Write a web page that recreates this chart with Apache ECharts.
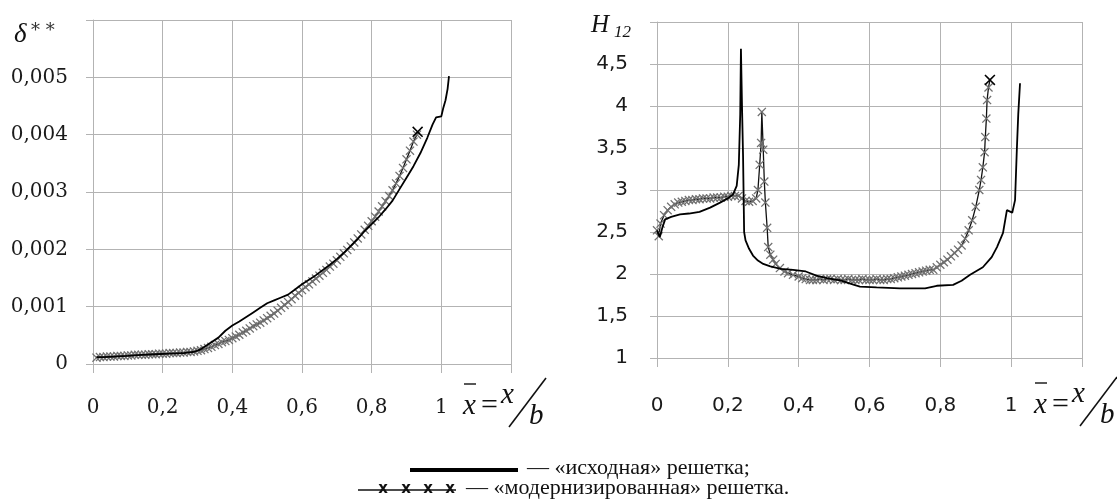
<!DOCTYPE html>
<html>
<head>
<meta charset="utf-8">
<script src="https://cdn.jsdelivr.net/npm/echarts@6/dist/echarts.min.js"></script>
<style>
  html, body { margin: 0; padding: 0; background: #fff; }
  #chart { width: 1117px; height: 500px; }
</style>
</head>
<body>
<div id="chart"></div>
<script>
// Relative coordinate x/b along the chord
const xTicks = [0, 0.2, 0.4, 0.6, 0.8, 1, 1.2];
const deltaTicks = [0, 0.001, 0.002, 0.003, 0.004, 0.005, 0.006];
const h12Ticks = [1, 1.5, 2, 2.5, 3, 3.5, 4, 4.5, 5];

// Momentum thickness δ** — original cascade
const deltaBaseX = [0.01, 0.03, 0.06, 0.10, 0.14, 0.18, 0.22, 0.26, 0.29, 0.31, 0.33, 0.36, 0.38, 0.40, 0.42, 0.44, 0.46, 0.48, 0.50, 0.52, 0.54, 0.56, 0.58, 0.60, 0.62, 0.64, 0.66, 0.68, 0.70, 0.72, 0.74, 0.76, 0.78, 0.80, 0.82, 0.84, 0.86, 0.88, 0.90, 0.92, 0.94, 0.96, 0.975, 0.985, 1.00, 1.005, 1.012, 1.018, 1.022];
const deltaBaseY = [0.00012, 0.00012, 0.00013, 0.00014, 0.00016, 0.00017, 0.00018, 0.00019, 0.00021, 0.00026, 0.00034, 0.00046, 0.00058, 0.00067, 0.00074, 0.00082, 0.00090, 0.00098, 0.00106, 0.00111, 0.00116, 0.00121, 0.00130, 0.00139, 0.00147, 0.00155, 0.00164, 0.00173, 0.00183, 0.00194, 0.00206, 0.00218, 0.00232, 0.00244, 0.00256, 0.00270, 0.00285, 0.00305, 0.00325, 0.00345, 0.00368, 0.00395, 0.00418, 0.00430, 0.00432, 0.00445, 0.00460, 0.00480, 0.00502];

// Momentum thickness δ** — modernised cascade
const deltaModX = [0.01, 0.02, 0.03, 0.04, 0.05, 0.06, 0.07, 0.08, 0.09, 0.10, 0.11, 0.12, 0.13, 0.14, 0.15, 0.16, 0.17, 0.18, 0.19, 0.20, 0.21, 0.22, 0.23, 0.24, 0.25, 0.26, 0.27, 0.28, 0.29, 0.30, 0.31, 0.32, 0.33, 0.34, 0.35, 0.36, 0.37, 0.38, 0.39, 0.40, 0.41, 0.42, 0.43, 0.44, 0.45, 0.46, 0.47, 0.48, 0.49, 0.50, 0.51, 0.52, 0.53, 0.54, 0.55, 0.56, 0.57, 0.58, 0.59, 0.60, 0.61, 0.62, 0.63, 0.64, 0.65, 0.66, 0.67, 0.68, 0.69, 0.70, 0.71, 0.72, 0.73, 0.74, 0.75, 0.76, 0.77, 0.78, 0.79, 0.80, 0.81, 0.82, 0.83, 0.84, 0.85, 0.86, 0.87, 0.88, 0.89, 0.90, 0.91, 0.92, 0.93, 0.932];
const deltaModY = [0.00011, 0.00012, 0.00012, 0.00013, 0.00013, 0.00013, 0.00014, 0.00014, 0.00014, 0.00015, 0.00015, 0.00016, 0.00016, 0.00016, 0.00016, 0.00017, 0.00017, 0.00017, 0.00018, 0.00018, 0.00018, 0.00019, 0.00019, 0.00019, 0.00020, 0.00020, 0.00021, 0.00021, 0.00022, 0.00023, 0.00024, 0.00026, 0.00028, 0.00030, 0.00033, 0.00035, 0.00038, 0.00040, 0.00042, 0.00045, 0.00048, 0.00051, 0.00055, 0.00058, 0.00062, 0.00066, 0.00069, 0.00072, 0.00076, 0.00080, 0.00084, 0.00088, 0.00093, 0.00098, 0.00103, 0.00108, 0.00113, 0.00119, 0.00124, 0.00129, 0.00134, 0.00139, 0.00144, 0.00149, 0.00154, 0.00159, 0.00164, 0.00170, 0.00175, 0.00181, 0.00187, 0.00193, 0.00199, 0.00205, 0.00212, 0.00219, 0.00226, 0.00234, 0.00241, 0.00249, 0.00257, 0.00266, 0.00275, 0.00284, 0.00293, 0.00303, 0.00315, 0.00328, 0.00342, 0.00357, 0.00372, 0.00388, 0.00400, 0.00405];

// Shape factor H12 — original cascade
const hBaseX = [0.0, 0.008, 0.015, 0.023, 0.04, 0.065, 0.09, 0.12, 0.15, 0.178, 0.2, 0.215, 0.225, 0.231, 0.235, 0.237, 0.240, 0.243, 0.246, 0.25, 0.26, 0.271, 0.285, 0.30, 0.32, 0.35, 0.384, 0.42, 0.45, 0.48, 0.52, 0.55, 0.573, 0.62, 0.686, 0.757, 0.79, 0.836, 0.86, 0.884, 0.92, 0.945, 0.96, 0.977, 0.988, 1.003, 1.011, 1.016, 1.02, 1.025];
const hBaseY = [2.52, 2.44, 2.55, 2.65, 2.68, 2.71, 2.72, 2.74, 2.79, 2.85, 2.9, 2.95, 3.05, 3.3, 3.9, 4.68, 4.0, 3.4, 2.5, 2.4, 2.3, 2.22, 2.16, 2.12, 2.09, 2.06, 2.05, 2.03, 1.98, 1.95, 1.92, 1.88, 1.85, 1.84, 1.83, 1.83, 1.86, 1.87, 1.92, 1.99, 2.08, 2.2, 2.32, 2.49, 2.76, 2.73, 2.88, 3.48, 3.9, 4.27];

// Shape factor H12 — modernised cascade
const hModX = [0.0, 0.005, 0.01, 0.02, 0.03, 0.04, 0.05, 0.06, 0.07, 0.08, 0.09, 0.10, 0.11, 0.12, 0.13, 0.14, 0.15, 0.16, 0.17, 0.18, 0.19, 0.20, 0.21, 0.22, 0.23, 0.24, 0.25, 0.26, 0.27, 0.28, 0.285, 0.29, 0.294, 0.296, 0.30, 0.303, 0.306, 0.311, 0.314, 0.32, 0.328, 0.335, 0.347, 0.36, 0.37, 0.384, 0.40, 0.41, 0.42, 0.432, 0.44, 0.45, 0.46, 0.47, 0.48, 0.49, 0.50, 0.51, 0.52, 0.53, 0.54, 0.55, 0.56, 0.57, 0.58, 0.59, 0.60, 0.61, 0.62, 0.63, 0.64, 0.65, 0.66, 0.67, 0.68, 0.69, 0.70, 0.71, 0.72, 0.73, 0.74, 0.75, 0.76, 0.77, 0.78, 0.79, 0.80, 0.81, 0.82, 0.83, 0.84, 0.85, 0.86, 0.87, 0.88, 0.89, 0.90, 0.91, 0.915, 0.92, 0.925, 0.927, 0.93, 0.932, 0.936, 0.94];
const hModY = [2.52, 2.45, 2.6, 2.7, 2.76, 2.8, 2.83, 2.85, 2.86, 2.87, 2.88, 2.88, 2.89, 2.89, 2.9, 2.9, 2.9, 2.91, 2.91, 2.91, 2.92, 2.92, 2.93, 2.93, 2.93, 2.9, 2.87, 2.86, 2.87, 2.9, 3.0, 3.3, 3.56, 3.93, 3.48, 3.1, 2.85, 2.55, 2.32, 2.23, 2.17, 2.12, 2.07, 2.03, 2.01, 1.99, 1.97, 1.95, 1.94, 1.93, 1.93, 1.93, 1.94, 1.93, 1.94, 1.94, 1.93, 1.94, 1.93, 1.93, 1.94, 1.93, 1.93, 1.93, 1.94, 1.93, 1.93, 1.93, 1.94, 1.93, 1.93, 1.94, 1.94, 1.95, 1.96, 1.97, 1.98, 1.99, 2.0, 2.01, 2.02, 2.03, 2.04, 2.05, 2.05, 2.08, 2.11, 2.14, 2.17, 2.21, 2.25, 2.29, 2.34, 2.42, 2.52, 2.64, 2.8, 3.0, 3.12, 3.27, 3.45, 3.63, 3.85, 4.07, 4.22, 4.31];

const legendBase = '— «исходная» решетка;';
const legendMod = '— «модернизированная» решетка.';

const GRID = '#b3b3b3';
const CROSS = 'path://M0,1L1,0L5,4L9,0L10,1L6,5L10,9L9,10L5,6L1,10L0,9L4,5Z';

function pairs(xs, ys) { return xs.map((x, i) => [x, ys[i]]); }
function markedPairs(xs, ys) {
  const d = pairs(xs, ys);
  const last = d.length - 1;
  d[last] = { value: d[last], symbolSize: 11, itemStyle: { color: '#000' } };
  return d;
}
function comma(v) { return String(+v.toFixed(4)).replace('.', ','); }

function xAxisFor(gridIndex, font, size, margin) {
  return {
    type: 'value', gridIndex, min: xTicks[0], max: xTicks[xTicks.length - 1], interval: 0.2,
    axisLine: { show: true, onZero: false, lineStyle: { color: GRID, width: 1 } },
    axisTick: { show: true, length: 9, lineStyle: { color: GRID } },
    splitLine: { show: true, lineStyle: { color: GRID, width: 1 } },
    axisLabel: {
      margin, color: '#1a1a1a', fontFamily: font, fontSize: size,
      formatter: v => (Math.abs(v - xTicks[xTicks.length - 1]) < 1e-9 ? '' : comma(v))
    }
  };
}
function yAxisFor(gridIndex, ticks, interval, font, size, margin) {
  return {
    type: 'value', gridIndex, min: ticks[0], max: ticks[ticks.length - 1], interval,
    axisLine: { show: true, lineStyle: { color: GRID, width: 1 } },
    axisTick: { show: true, length: 7, lineStyle: { color: GRID } },
    splitLine: { show: true, lineStyle: { color: GRID, width: 1 } },
    axisLabel: {
      margin, color: '#1a1a1a', fontFamily: font, fontSize: size,
      formatter: v => (Math.abs(v - ticks[ticks.length - 1]) < 1e-9 ? '' : comma(v))
    }
  };
}

function baseSeries(xi, yi, data) {
  return {
    type: 'line', xAxisIndex: xi, yAxisIndex: yi, data, showSymbol: false, symbol: 'none',
    lineStyle: { color: '#000', width: 1.8 }, z: 3, animation: false
  };
}
function modSeries(xi, yi, data) {
  return {
    type: 'line', xAxisIndex: xi, yAxisIndex: yi, data, symbol: CROSS, symbolSize: 9,
    showAllSymbol: true,
    itemStyle: { color: '#707070' },
    lineStyle: { color: '#111', width: 1.3 }, z: 2, animation: false
  };
}

// Axis caption x̄ = x/b, placed from an origin near the last labelled tick
function formula(ox, oy) {
  const f = 'italic 29px "Liberation Serif"';
  return [
    { type: 'text', style: { text: 'x', x: ox, y: oy, font: f, fill: '#111', align: 'left', verticalAlign: 'middle' } },
    { type: 'line', shape: { x1: ox + 1, y1: oy - 22, x2: ox + 13, y2: oy - 22 }, style: { stroke: '#111', lineWidth: 1.4 } },
    { type: 'text', style: { text: '=', x: ox + 18, y: oy, font: '30px "Liberation Serif"', fill: '#111', align: 'left', verticalAlign: 'middle' } },
    { type: 'text', style: { text: 'x', x: ox + 38, y: oy - 11, font: f, fill: '#111', align: 'left', verticalAlign: 'middle' } },
    { type: 'line', shape: { x1: ox + 83, y1: oy - 28, x2: ox + 46, y2: oy + 21 }, style: { stroke: '#111', lineWidth: 1.6 } },
    { type: 'text', style: { text: 'b', x: ox + 66, y: oy + 10, font: f, fill: '#111', align: 'left', verticalAlign: 'middle' } }
  ];
}

const chart = echarts.init(document.getElementById('chart'), null, { renderer: 'canvas' });

const graphics = [].concat(
  formula(463, 406),
  formula(1034, 405),
  [
    { type: 'text', style: { text: 'δ', x: 14, y: 35, font: 'italic 27px "Liberation Serif"', fill: '#111', verticalAlign: 'middle' } },
    { type: 'text', style: { text: '* *', x: 31, y: 31, font: '18px "DejaVu Serif"', fill: '#333', verticalAlign: 'middle' } },
    { type: 'text', style: { text: 'H', x: 591, y: 25, font: 'italic 25px "Liberation Serif"', fill: '#111', verticalAlign: 'middle' } },
    { type: 'text', style: { text: '12', x: 614, y: 33, font: 'italic 17px "Liberation Serif"', fill: '#111', verticalAlign: 'middle' } },
    // legend
    { type: 'rect', shape: { x: 410, y: 468, width: 108, height: 4 }, style: { fill: '#000' } },
    { type: 'text', style: { text: legendBase, x: 527, y: 468, font: '22px "Liberation Serif"', fill: '#111', verticalAlign: 'middle' } },
    { type: 'line', shape: { x1: 358, y1: 490, x2: 456, y2: 490 }, style: { stroke: '#111', lineWidth: 1.3 } },
    { type: 'text', style: { text: 'x', x: 383, y: 489, font: 'bold 15px "DejaVu Sans"', fill: '#111', align: 'center', verticalAlign: 'middle' } },
    { type: 'text', style: { text: 'x', x: 406, y: 489, font: 'bold 15px "DejaVu Sans"', fill: '#111', align: 'center', verticalAlign: 'middle' } },
    { type: 'text', style: { text: 'x', x: 428, y: 489, font: 'bold 15px "DejaVu Sans"', fill: '#111', align: 'center', verticalAlign: 'middle' } },
    { type: 'text', style: { text: 'x', x: 450, y: 489, font: 'bold 15px "DejaVu Sans"', fill: '#111', align: 'center', verticalAlign: 'middle' } },
    { type: 'text', style: { text: legendMod, x: 466, y: 488, font: '22px "Liberation Serif"', fill: '#111', verticalAlign: 'middle' } }
  ]
);

chart.setOption({
  backgroundColor: '#fff',
  animation: false,
  grid: [
    { left: 93, top: 20, width: 418, height: 344 },
    { left: 657, top: 22, width: 425, height: 336 }
  ],
  xAxis: [
    xAxisFor(0, 'DejaVu Serif', 20, 34),
    xAxisFor(1, 'DejaVu Sans', 20, 38)
  ],
  yAxis: [
    yAxisFor(0, deltaTicks, 0.001, 'DejaVu Serif', 20, 25),
    yAxisFor(1, h12Ticks, 0.5, 'DejaVu Sans', 20, 29)
  ],
  series: [
    baseSeries(0, 0, pairs(deltaBaseX, deltaBaseY)),
    modSeries(0, 0, markedPairs(deltaModX, deltaModY)),
    baseSeries(1, 1, pairs(hBaseX, hBaseY)),
    modSeries(1, 1, markedPairs(hModX, hModY))
  ],
  graphic: graphics
});
</script>
</body>
</html>
